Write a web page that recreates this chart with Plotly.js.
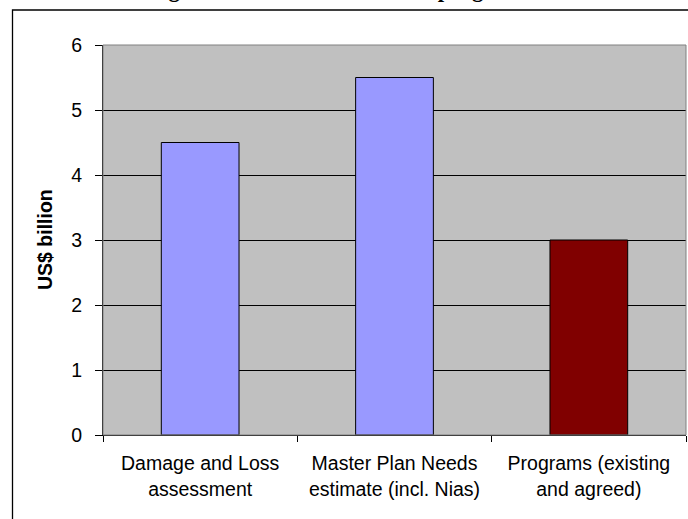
<!DOCTYPE html>
<html>
<head>
<meta charset="utf-8">
<script src="https://cdn.plot.ly/plotly-3.0.1.min.js"></script>
<style>html,body{margin:0;padding:0;background:#fff;}#chart{width:688px;height:519px;}</style>
</head>
<body>
<div id="chart"></div>
<script>
const categories = ["Damage and Loss<br>assessment", "Master Plan Needs<br>estimate (incl. Nias)", "Programs (existing<br>and agreed)"];
const values = [4.5, 5.5, 3.0];
const barColors = ["#9999FF", "#9999FF", "#800000"];
const yTicks = [0, 1, 2, 3, 4, 5, 6];
const chartTitle = "Funding needs and reconstruction programs";
const yTitle = "US$ billion";

const L = 103, R = 2, T = 45, B = 84;
const W = 688, H = 519;
const pw = W - L - R, ph = H - T - B;
const px = v => (v - L) / pw;           // page x -> paper
const py = v => (H - B - v) / ph;       // page y -> paper

const trace = {
  type: 'bar',
  x: categories,
  y: values,
  marker: {color: barColors, line: {color: '#000', width: 1}},
  hoverinfo: 'none'
};

const layout = {
  width: W, height: H,
  margin: {l: L, r: R, t: T, b: B, pad: 0},
  paper_bgcolor: '#fff',
  plot_bgcolor: '#C0C0C0',
  bargap: 0.6,
  showlegend: false,
  font: {family: 'Liberation Sans, Arial, sans-serif', color: '#000'},
  xaxis: {
    type: 'category',
    tickson: 'boundaries',
    ticks: 'outside', ticklen: 6, tickcolor: '#000', tickwidth: 1,
    ticklabelstandoff: 11,
    showline: true, linecolor: '#000', linewidth: 1,
    showgrid: false, zeroline: false,
    tickfont: {size: 19.5, family: 'Liberation Sans, Arial, sans-serif', color: '#000'},
    fixedrange: true
  },
  yaxis: {
    range: [0, 6],
    tickvals: yTicks,
    ticktext: yTicks.map(String),
    ticks: 'outside', ticklen: 7, tickcolor: '#000', tickwidth: 1,
    ticklabelstandoff: 9,
    showline: true, linecolor: '#000', linewidth: 1,
    showgrid: true, gridcolor: '#000', gridwidth: 1,
    zeroline: false,
    tickfont: {size: 19.5, family: 'Liberation Sans, Arial, sans-serif', color: '#000'},
    fixedrange: true
  },
  shapes: [
    {type: 'rect', xref: 'paper', yref: 'paper', x0: 0, x1: 1, y0: 0, y1: 1,
     line: {color: '#808080', width: 1}, fillcolor: 'rgba(0,0,0,0)', layer: 'above'},
    {type: 'rect', xref: 'paper', yref: 'paper', x0: px(12.5), x1: px(720), y0: py(560), y1: py(10),
     line: {color: '#000', width: 1.3}, fillcolor: 'rgba(0,0,0,0)', layer: 'above'}
  ],
  annotations: [
    {text: '<b>' + yTitle + '</b>', xref: 'paper', yref: 'paper', x: px(45), y: 0.5,
     xanchor: 'center', yanchor: 'middle', textangle: -90, showarrow: false,
     font: {size: 19.5, family: 'Liberation Sans, Arial, sans-serif', color: '#000'}},
    {text: '<b>' + chartTitle + '</b>', xref: 'paper', yref: 'paper', x: px(315), y: py(4),
     xanchor: 'center', yanchor: 'bottom', showarrow: false,
     font: {size: 23, family: 'Liberation Serif, Times New Roman, serif', color: '#000'}}
  ]
};

Plotly.newPlot('chart', [trace], layout, {displayModeBar: false, staticPlot: true});
</script>
</body>
</html>
